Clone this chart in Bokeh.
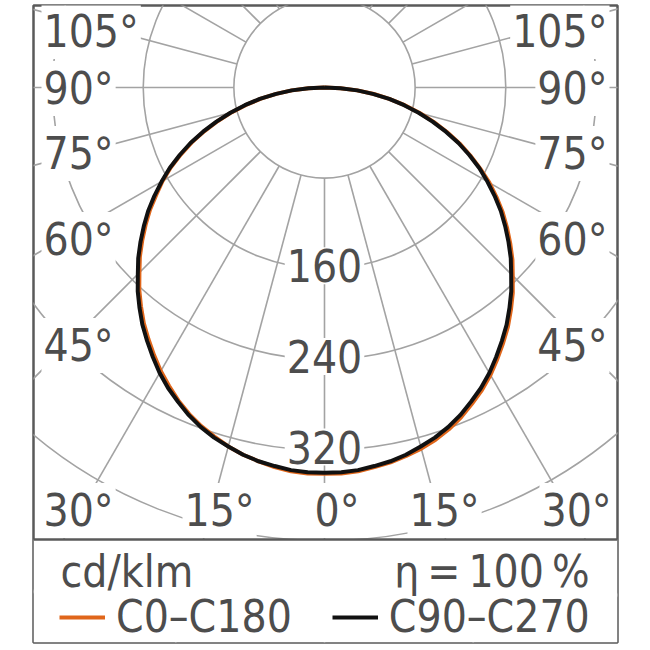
import numpy as np
from bokeh.plotting import figure
from bokeh.models import Span, BoxAnnotation, Legend, LegendItem
from bokeh.core.properties import value
from bokeh.embed import file_html
from bokeh.resources import INLINE

# luminous intensity (cd/klm), every 2.5 degrees from nadir
gamma = [0, 2.5, 5, 7.5, 10, 12.5, 15, 17.5, 20, 22.5, 25, 27.5, 30, 32.5, 35, 37.5, 40, 42.5, 45,
         47.5, 50, 52.5, 55, 57.5, 60, 62.5, 65, 67.5, 70, 72.5, 75, 77.5, 80, 82.5, 85, 87.5, 90]
c0 = [341, 341, 340, 338, 336, 333, 330, 326, 321, 315, 308, 301, 293, 284, 275, 266, 256, 246, 235,
      225, 214, 203, 192, 180, 168, 155, 142, 129, 115, 101, 87, 73, 58, 44, 29, 14, 0]
c180 = [341, 341, 340, 338, 335, 332, 328, 323, 318, 312, 305, 297, 289, 280, 271, 262, 252, 242, 231,
        221, 210, 199, 188, 176, 165, 153, 140, 127, 113, 99, 85, 71, 57, 43, 29, 14, 0]
c90 = [340, 340, 339, 337, 335, 332, 328, 324, 319, 313, 306, 299, 291, 282, 273, 264, 254, 244, 233,
       223, 212, 201, 190, 178, 166, 154, 141, 128, 114, 100, 86, 72, 58, 43, 29, 14, 0]
c270 = [340, 340, 339, 337, 335, 332, 328, 324, 319, 313, 306, 299, 291, 282, 273, 264, 254, 244, 233,
        223, 212, 201, 190, 178, 166, 154, 141, 128, 114, 100, 86, 72, 58, 43, 29, 14, 0]

rings = [80, 160, 240, 320, 400]
ring_labels = ["160", "240", "320"]
spokes = list(range(0, 360, 15))
side_labels = ["105°", "90°", "75°", "60°", "45°"]
bottom_labels = ["30°", "15°", "0°", "15°", "30°"]

FONT = "DejaVu Sans Condensed, Liberation Sans Narrow, Roboto Condensed, sans-serif"
TXT = "#4d4d4d"
GRID = "#a3a3a3"
FRAME = "#5a5a5a"
ORANGE = "#e0661a"
FS = "44px"

# pixel layout of the reference
S = 1.133           # px per cd/klm
OX, OY = 324, 87    # origin of the polar diagram in page px
W, H = 642, 644

def dx(px):
    return (px - OX) / S

def dy(py):
    return (OY - py) / S

p = figure(width=W, height=H, output_backend="svg", toolbar_location=None,
           x_range=(dx(33), dx(617)), y_range=(dy(642), dy(5)),
           min_border_left=33, min_border_right=W - 617, min_border_top=5,
           min_border_bottom=H - 642)
p.axis.visible = False
p.grid.visible = False
p.outline_line_color = FRAME
p.outline_line_width = 2.5
p.background_fill_color = "white"

# polar grid
p.circle(x=[0] * len(rings), y=[0] * len(rings), radius=rings, fill_color=None,
         line_color=GRID, line_width=1.6, level="image")
a = np.radians(spokes)
p.segment(x0=80 * np.sin(a), y0=-80 * np.cos(a), x1=900 * np.sin(a), y1=-900 * np.cos(a),
          line_color=GRID, line_width=1.6, level="image")

# legend panel
p.add_layout(BoxAnnotation(top=dy(539), fill_color="white", fill_alpha=1,
                           line_color=None, level="underlay"))
p.add_layout(Span(location=dy(539), dimension="width", line_color=FRAME, line_width=2.5))

lab = dict(text_font=value(FONT), text_font_size=FS, text_color=TXT,
           text_baseline="middle", background_fill_color="white", padding=2)
side_y = [dy(v) for v in [31, 88, 153, 239, 345]]
p.text(x=[dx(41)] * 5, y=side_y, text=side_labels, text_align="left", **lab)
p.text(x=[dx(609)] * 5, y=side_y, text=side_labels, text_align="right", **lab)
p.text(x=[dx(v) for v in [41, 182, 312, 407, 539]], y=[dy(510)] * 5, text=bottom_labels,
       text_align="left", **lab)
p.text(x=[0] * 3, y=[-r + 3 / S for r in rings[1:4]], text=ring_labels,
       text_align="center", **lab)

def outline(left, right):
    g = np.radians(gamma)
    xl = -np.array(left) * np.sin(g)
    yl = -np.array(left) * np.cos(g)
    xr = np.array(right) * np.sin(g)
    yr = -np.array(right) * np.cos(g)
    return np.concatenate([xl[::-1], xr[1:]]), np.concatenate([yl[::-1], yr[1:]])

x0, y0 = outline(c180, c0)
x9, y9 = outline(c270, c90)
r0 = p.line(x0, y0, line_color=ORANGE, line_width=4, line_join="round")
r9 = p.line(x9, y9, line_color="#111111", line_width=4, line_join="round")

txt = dict(text_font=value(FONT), text_font_size=FS, text_color=TXT, text_baseline="middle")
p.text(x=[dx(60)], y=[dy(571)], text=["cd/klm"], text_align="left", **txt)
p.text(x=[dx(589)], y=[dy(571)], text=["η\u2009=\u2009100\u2009%"], text_align="right", **txt)

legend = Legend(items=[LegendItem(label="C0–C180", renderers=[r0]),
                       LegendItem(label="C90–C270", renderers=[r9])],
                orientation="horizontal", location=(26, 0),
                label_text_font=FONT, label_text_font_size=FS, label_text_color=TXT,
                glyph_width=46, glyph_height=30, label_standoff=11, spacing=40,
                padding=0, margin=0, border_line_color=None, background_fill_alpha=0)
p.add_layout(legend)

open("out.html", "w").write(file_html(p, INLINE))
